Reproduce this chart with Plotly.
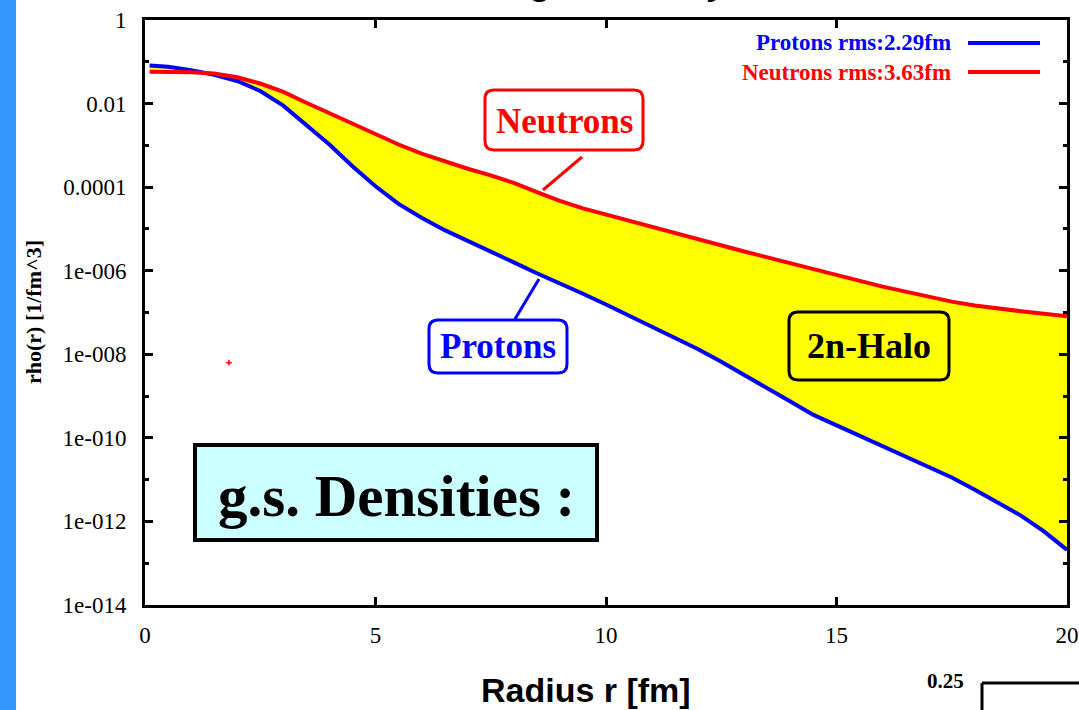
import numpy as np
import plotly.graph_objects as go

# Radial grid [fm] and log10 of the ground-state densities [1/fm^3]
radius = [0.1, 0.5, 1.0, 1.5, 2.0, 2.5, 3.0, 3.5, 4.0, 4.5, 5.0, 5.5, 6.0, 6.5, 7.0,
          7.5, 8.0, 8.5, 9.0, 9.5, 10.0, 10.5, 11.0, 11.5, 12.0, 12.5, 13.0, 13.5,
          14.0, 14.5, 15.0, 15.5, 16.0, 16.5, 17.0, 17.5, 18.0, 18.5, 19.0, 19.5, 20.0]
log_rho_protons = [-1.09, -1.12, -1.20, -1.31, -1.46, -1.70, -2.05, -2.52, -2.98, -3.50,
                   -3.98, -4.40, -4.73, -5.03, -5.28, -5.55, -5.80, -6.06, -6.30, -6.55,
                   -6.81, -7.08, -7.34, -7.61, -7.88, -8.18, -8.49, -8.81, -9.13, -9.45,
                   -9.70, -9.95, -10.20, -10.45, -10.70, -10.95, -11.24, -11.54, -11.86,
                   -12.24, -12.68]
log_rho_neutrons = [-1.24, -1.24, -1.25, -1.28, -1.37, -1.52, -1.72, -1.98, -2.23, -2.48,
                    -2.74, -2.98, -3.20, -3.39, -3.56, -3.72, -3.90, -4.12, -4.33, -4.51,
                    -4.66, -4.81, -4.96, -5.11, -5.26, -5.40, -5.54, -5.68, -5.82, -5.97,
                    -6.12, -6.26, -6.38, -6.50, -6.62, -6.74, -6.83, -6.91, -6.97, -7.03,
                    -7.09]
stray_r = [1.82]
stray_log_rho = [-8.2]

x_ticks = [0, 5, 10, 15, 20]
y_major = [1, 1e-2, 1e-4, 1e-6, 1e-8, 1e-10, 1e-12, 1e-14]
y_major_text = ["1", "0.01", "0.0001", "1e-006", "1e-008", "1e-010", "1e-012", "1e-014"]
y_minor = [1e-1, 1e-3, 1e-5, 1e-7, 1e-9, 1e-11, 1e-13]

rho_p = 10.0 ** np.array(log_rho_protons)
rho_n = 10.0 ** np.array(log_rho_neutrons)
rho_stray = 10.0 ** np.array(stray_log_rho)

W, H = 1079, 710
L, T, R, B = 145, 20, 1067, 605
SERIF = "Liberation Serif"
SANS = "Liberation Sans"


def fx(x):
    return (x - L) / (R - L)


def fy(y):
    return (B - y) / (B - T)


def rounded_box(x0, y0, x1, y1, r):
    pts = [("M", x0 + r, y0), ("L", x1 - r, y0), ("Q", x1, y0, x1, y0 + r),
           ("L", x1, y1 - r), ("Q", x1, y1, x1 - r, y1), ("L", x0 + r, y1),
           ("Q", x0, y1, x0, y1 - r), ("L", x0, y0 + r), ("Q", x0, y0, x0 + r, y0)]
    parts = []
    for p in pts:
        cmd, coords = p[0], p[1:]
        xy = []
        for i in range(0, len(coords), 2):
            xy.append(f"{fx(coords[i]):.5f},{fy(coords[i + 1]):.5f}")
        parts.append(cmd + " " + " ".join(xy))
    return " ".join(parts) + " Z"


def label(x, y, text, size, color="black", family=SERIF, xanchor="center",
          yanchor="middle", weight="bold", angle=0):
    return dict(xref="paper", yref="paper", x=fx(x), y=fy(y), xanchor=xanchor,
                yanchor=yanchor, showarrow=False, text=text, textangle=angle,
                font=dict(family=family, size=size, color=color, weight=weight))


fig = go.Figure()

# halo region between the two densities
fig.add_trace(go.Scatter(x=radius, y=rho_p, mode="lines", line=dict(width=0, color="blue"),
                         hoverinfo="skip", showlegend=False))
fig.add_trace(go.Scatter(x=radius, y=rho_n, mode="lines", line=dict(width=0, color="red"),
                         fill="tonexty", fillcolor="#ffff00", hoverinfo="skip", showlegend=False))
fig.add_trace(go.Scatter(x=radius, y=rho_p, mode="lines", name="Protons rms:2.29fm",
                         line=dict(width=4, color="#0000ff"), showlegend=False))
fig.add_trace(go.Scatter(x=radius, y=rho_n, mode="lines", name="Neutrons rms:3.63fm",
                         line=dict(width=4, color="#ff0000"), showlegend=False))
fig.add_trace(go.Scatter(x=stray_r, y=rho_stray, mode="markers",
                         marker=dict(size=4, color="#ff0000", symbol="cross-thin",
                                     line=dict(width=1.5, color="#ff0000")),
                         showlegend=False))

shapes = []
annotations = []

# side strip
shapes.append(dict(type="rect", xref="paper", yref="paper", x0=fx(0), x1=fx(16),
                   y0=fy(H), y1=fy(0), fillcolor="#3399ff", line=dict(width=0), layer="below"))

# legend samples
shapes.append(dict(type="line", xref="paper", yref="paper", x0=fx(968), x1=fx(1040),
                   y0=fy(43), y1=fy(43), line=dict(color="#0000ff", width=4)))
shapes.append(dict(type="line", xref="paper", yref="paper", x0=fx(968), x1=fx(1040),
                   y0=fy(72), y1=fy(72), line=dict(color="#ff0000", width=4)))
annotations.append(label(953, 43, "Protons rms:2.29fm", 23, "#0000ff", xanchor="right"))
annotations.append(label(953, 72, "Neutrons rms:3.63fm", 23, "#ff0000", xanchor="right"))

# callout boxes
shapes.append(dict(type="path", xref="paper", yref="paper", path=rounded_box(485, 90, 643, 150, 9),
                   fillcolor="white", line=dict(color="#ff0000", width=3)))
shapes.append(dict(type="line", xref="paper", yref="paper", x0=fx(582), y0=fy(157),
                   x1=fx(543), y1=fy(190), line=dict(color="#ff0000", width=3)))
annotations.append(label(564, 121, "Neutrons", 35, "#ff0000"))

shapes.append(dict(type="path", xref="paper", yref="paper", path=rounded_box(429, 320, 567, 373, 9),
                   fillcolor="white", line=dict(color="#0000ff", width=3)))
shapes.append(dict(type="line", xref="paper", yref="paper", x0=fx(539), y0=fy(279),
                   x1=fx(515), y1=fy(319), line=dict(color="#0000ff", width=3)))
annotations.append(label(498, 346, "Protons", 35, "#0000ff"))

shapes.append(dict(type="path", xref="paper", yref="paper", path=rounded_box(789, 312, 949, 380, 9),
                   line=dict(color="black", width=3)))
annotations.append(label(869, 346, "2n-Halo", 36))

shapes.append(dict(type="rect", xref="paper", yref="paper", x0=fx(195), x1=fx(597),
                   y0=fy(540), y1=fy(445), fillcolor="#ccffff", line=dict(color="black", width=4)))
annotations.append(label(396, 496, "g.s. Densities :", 59))

# axis titles
annotations.append(label(33, 312, "rho(r) [1/fm^3]", 22, angle=-90))
annotations.append(label(586, 690, "Radius r [fm]", 34, family=SANS))

# heading above the frame
annotations.append(label(527, 4, "g.s. Density", 35, family=SANS, xanchor="left",
                         yanchor="bottom"))

# neighbouring panel corner
shapes.append(dict(type="line", xref="paper", yref="paper", x0=fx(982), y0=fy(683),
                   x1=fx(1085), y1=fy(683), line=dict(color="black", width=3)))
shapes.append(dict(type="line", xref="paper", yref="paper", x0=fx(982), y0=fy(683),
                   x1=fx(982), y1=fy(715), line=dict(color="black", width=3)))
annotations.append(label(945, 681, "0.25", 21))

fig.update_layout(
    width=W, height=H,
    margin=dict(l=L, r=W - R, t=T, b=H - B, pad=0, autoexpand=False),
    paper_bgcolor="white", plot_bgcolor="white",
    shapes=shapes, annotations=annotations,
    showlegend=False,
)
fig.update_xaxes(
    range=[0, 20], tickmode="array", tickvals=x_ticks, ticktext=[str(v) for v in x_ticks],
    ticks="inside", ticklen=8, tickwidth=3, tickcolor="black",
    showline=True, linewidth=3, linecolor="black", mirror="ticks",
    showgrid=False, zeroline=False, ticklabelstandoff=7, automargin=False,
    tickfont=dict(family=SERIF, size=23, color="black"),
)
fig.update_yaxes(
    type="log", range=[-14, 0], tickmode="array", tickvals=y_major, ticktext=y_major_text,
    ticks="inside", ticklen=8, tickwidth=3, tickcolor="black",
    minor=dict(tickmode="array", tickvals=y_minor, ticks="inside", ticklen=4,
               tickwidth=3, tickcolor="black", showgrid=False),
    showline=True, linewidth=3, linecolor="black", mirror="ticks",
    showgrid=False, zeroline=False, ticklabelstandoff=11, automargin=False,
    tickfont=dict(family=SERIF, size=23, color="black"),
)

fig.write_html("out.html")
